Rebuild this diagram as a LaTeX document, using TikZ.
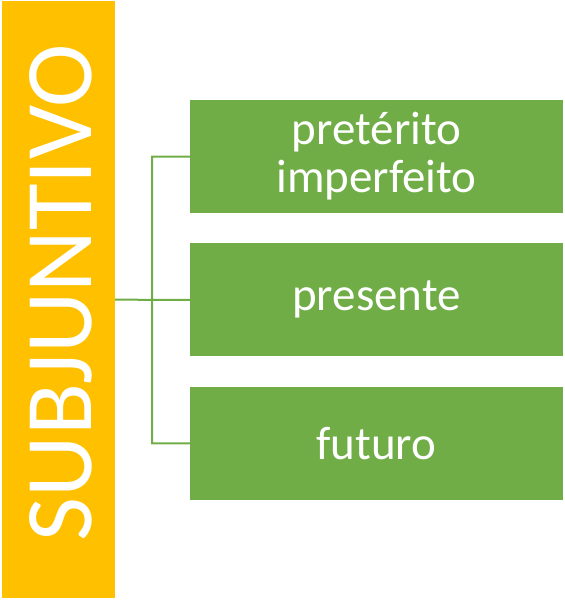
\documentclass[tikz,border=0pt]{standalone}
\usepackage{fontspec}
\setmainfont{Carlito}
\usetikzlibrary{positioning}
\definecolor{subjyellow}{HTML}{FFC000}
\definecolor{tempgreen}{HTML}{70AD47}

\begin{document}
\begin{tikzpicture}[x=1pt,y=-1pt]
    \useasboundingbox (0,0) rectangle (565,600);
    \node(subj)[fill=subjyellow, minimum width=113pt, minimum height=597pt, inner sep=0pt] at (58.5,299.5) {};
    \node(subjtext)[rotate=90, text=white, inner sep=0pt, font=\fontsize{95.5}{96}\selectfont] at (60.5,292.5) {SUBJUNTIVO};
    \begin{scope}[every node/.style={fill=tempgreen, text=white, minimum width=373pt, minimum height=113pt, inner sep=0pt, align=center, font=\fontsize{47}{48}\selectfont}, node distance=30pt]
        \node(pret) at (376.5,156.5) {pretérito\\imperfeito};
        \node(pres)[below=of pret] {presente};
        \node(fut)[below=of pres] {futuro};
    \end{scope}
    \coordinate(spine) at ({152,0} |- pres.west);
    %Lines
    \draw[tempgreen, line width=2pt] (subj.east) -- (spine)
            (pret.west) -| (spine) |- (fut.west)
            (spine) -- (pres.west);
\end{tikzpicture}
\end{document}
